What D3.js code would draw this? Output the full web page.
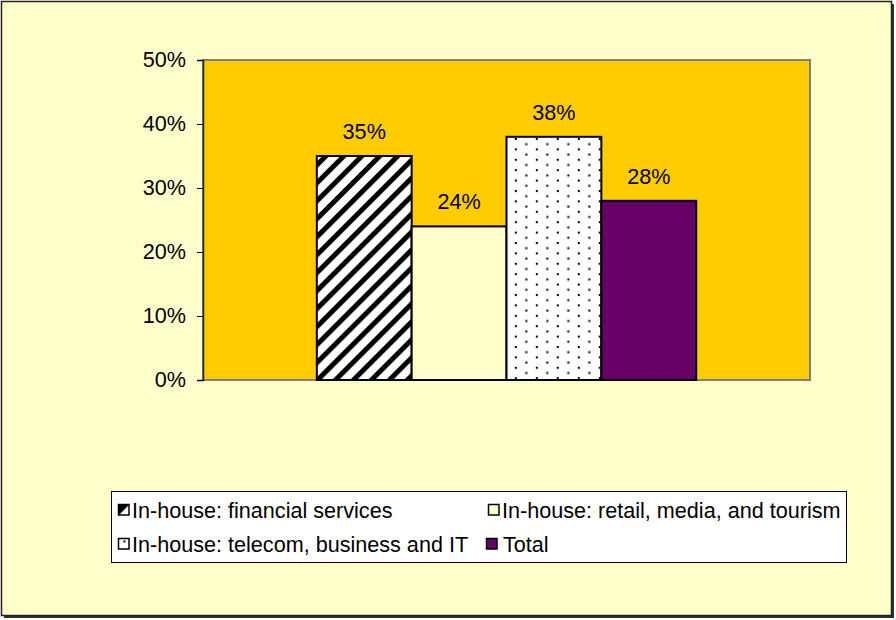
<!DOCTYPE html>
<html>
<head>
<meta charset="utf-8">
<script src="https://cdn.jsdelivr.net/npm/d3@7"></script>
<style>
  html, body { margin: 0; padding: 0; background: #fff; }
  svg { display: block; font-family: "Liberation Sans", Arial, sans-serif; }
</style>
</head>
<body>
<svg id="chart" width="896" height="620"></svg>
<script>
// Share of in-house work by sector
const categories = ["In-house"];
const seriesNames = [
  "In-house: financial services",
  "In-house: retail, media, and tourism",
  "In-house: telecom, business and IT",
  "Total"
];
const seriesValues = [35, 24, 38, 28];
const tickValues = [0, 10, 20, 30, 40, 50];
const tickLabels = ["0%", "10%", "20%", "30%", "40%", "50%"];

const svg = d3.select("#chart");
const FONT = 21.6;

// patterns for the bar fills
const defs = svg.append("defs");
const hatch = defs.append("pattern")
  .attr("id", "hatch").attr("patternUnits", "userSpaceOnUse")
  .attr("width", 12.7).attr("height", 12.7)
  .attr("patternTransform", "rotate(45)");
hatch.append("rect").attr("width", 12.7).attr("height", 12.7).attr("fill", "#fff");
hatch.append("rect").attr("x", 0).attr("width", 5).attr("height", 12.7).attr("fill", "#000");

const dots = defs.append("pattern")
  .attr("id", "dots").attr("patternUnits", "userSpaceOnUse")
  .attr("x", 513).attr("y", 138)
  .attr("width", 21).attr("height", 10.4);
dots.append("rect").attr("width", 21).attr("height", 10.4).attr("fill", "#fff");
dots.append("rect").attr("x", 0).attr("y", 0).attr("width", 2).attr("height", 2).attr("fill", "#000");
dots.append("rect").attr("x", 10.5).attr("y", 5.2).attr("width", 2).attr("height", 2).attr("fill", "#000");

const fills = ["url(#hatch)", "#FFFFCC", "url(#dots)", "#660066"];

// chart frame with shadow
svg.append("rect").attr("x", 4).attr("y", 4).attr("width", 890).attr("height", 614).attr("fill", "#333");
svg.append("rect").attr("x", 1.5).attr("y", 1.5).attr("width", 890).attr("height", 614)
  .attr("fill", "#FFFFCC").attr("stroke", "#222").attr("stroke-width", 1.5);

// plot area
const plot = { left: 203, right: 810, top: 60, bottom: 380 };
svg.append("rect")
  .attr("x", plot.left).attr("y", plot.top)
  .attr("width", plot.right - plot.left).attr("height", plot.bottom - plot.top)
  .attr("fill", "#FFCC00").attr("stroke", "#808080").attr("stroke-width", 2);

const y = d3.scaleLinear().domain([0, 50]).range([plot.bottom, plot.top]);
const x0 = d3.scaleBand().domain(categories).range([plot.left, plot.right]).paddingInner(0).paddingOuter(0.3);
const x1 = d3.scaleBand().domain(seriesNames).range([0, x0.bandwidth()]).padding(0);

// y axis
const yAxis = d3.axisLeft(y).tickValues(tickValues)
  .tickFormat((d, i) => tickLabels[i]).tickSize(6).tickPadding(11);
const ya = svg.append("g").attr("transform", `translate(${plot.left},0)`).call(yAxis);
ya.select(".domain").attr("stroke", "#222").attr("stroke-width", 1.5);
ya.selectAll(".tick line").attr("stroke", "#000");
ya.selectAll(".tick text").attr("font-size", FONT).attr("fill", "#000")
  .attr("font-family", "Liberation Sans, Arial, sans-serif");

// bars
const g = svg.append("g").selectAll("g").data(categories).join("g")
  .attr("transform", d => `translate(${x0(d)},0)`);
g.selectAll("rect").data(seriesNames.map((s, i) => ({ s, v: seriesValues[i], i })))
  .join("rect")
  .attr("x", d => x1(d.s)).attr("y", d => y(d.v))
  .attr("width", x1.bandwidth()).attr("height", d => y(0) - y(d.v))
  .attr("fill", d => fills[d.i]).attr("stroke", "#000").attr("stroke-width", 2);

// value labels
g.selectAll("text.val").data(seriesNames.map((s, i) => ({ s, v: seriesValues[i] })))
  .join("text").attr("class", "val")
  .attr("x", d => x1(d.s) + x1.bandwidth() / 2).attr("y", d => y(d.v) - 17)
  .attr("text-anchor", "middle").attr("font-size", FONT).attr("fill", "#000")
  .text(d => d.v + "%");

// legend
const lg = svg.append("g");
lg.append("rect").attr("x", 111.5).attr("y", 491.5).attr("width", 735).attr("height", 71)
  .attr("fill", "#fff").attr("stroke", "#000").attr("stroke-width", 1);
const legendPos = [
  { x: 118, y: 510 }, { x: 488, y: 510 },
  { x: 118, y: 544 }, { x: 486, y: 544 }
];
const swFill = ["url(#swHatch)", "#FFFFCC", "url(#swDots)", "#660066"];
const swH = defs.append("pattern").attr("id", "swHatch").attr("patternUnits", "objectBoundingBox")
  .attr("width", 1).attr("height", 1);
swH.append("rect").attr("width", 11).attr("height", 11).attr("fill", "#fff");
swH.append("path").attr("d", "M0,0 L11,0 L0,11 Z").attr("fill", "#000");
const swD = defs.append("pattern").attr("id", "swDots").attr("patternUnits", "objectBoundingBox")
  .attr("width", 1).attr("height", 1);
swD.append("rect").attr("width", 11).attr("height", 11).attr("fill", "#fff");
swD.append("rect").attr("x", 5).attr("y", 2).attr("width", 2).attr("height", 2).attr("fill", "#000");

const items = lg.selectAll("g.item").data(seriesNames).join("g").attr("class", "item")
  .attr("transform", (d, i) => `translate(${legendPos[i].x},${legendPos[i].y})`);
items.append("rect").attr("x", 0.5).attr("y", -5.5).attr("width", 10.5).attr("height", 10.5)
  .attr("fill", (d, i) => swFill[i]).attr("stroke", "#000").attr("stroke-width", 1.5);
items.append("text").attr("x", (d, i) => i === 3 ? 17 : 14).attr("y", 8)
  .attr("font-size", FONT).attr("fill", "#000").text(d => d);
</script>
</body>
</html>
